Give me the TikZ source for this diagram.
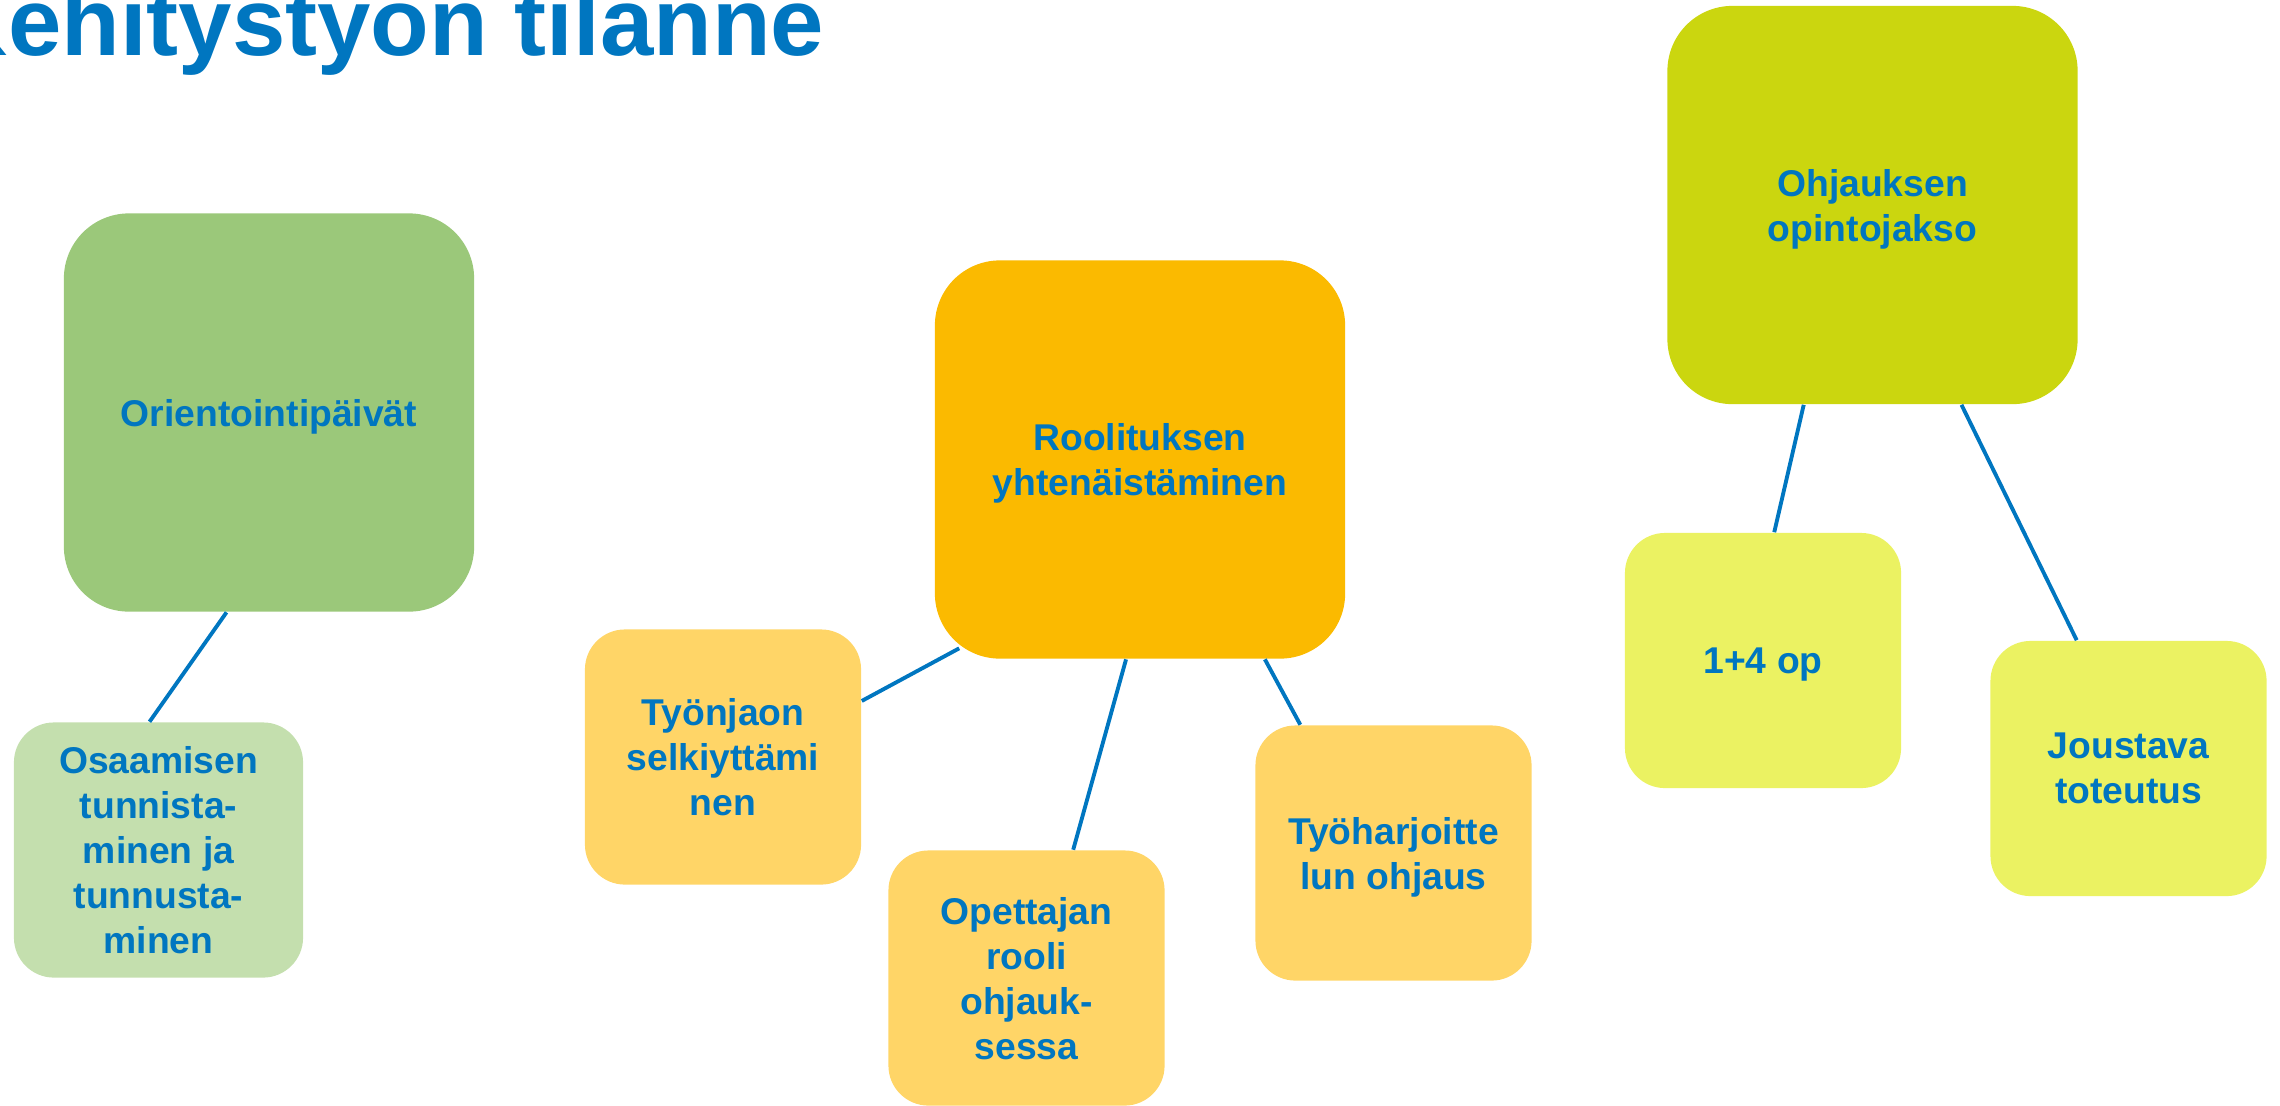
\documentclass[tikz,border=0pt]{standalone}
\usepackage{fontspec}
\setmainfont{Liberation Sans}
\usepackage{tikz}
\definecolor{titleblue}{RGB}{0,118,192}
\definecolor{leafgreen}{RGB}{155,200,122}
\definecolor{palegreen}{RGB}{196,223,174}
\definecolor{amber}{RGB}{251,186,0}
\definecolor{paleamber}{RGB}{255,213,103}
\definecolor{ohjlime}{RGB}{203,214,15}
\definecolor{palelime}{RGB}{235,242,98}

\begin{document}
\begin{tikzpicture}[x=0.01cm,y=-0.01cm,
  box/.style={align=center,text=titleblue,inner sep=0pt,text depth=0pt,
    font=\bfseries\fontsize{10.6pt}{12.8pt}\selectfont},
  bigbox/.style={box,rounded corners=0.65cm,minimum width=4.1cm,minimum height=3.98cm},
  smallbox/.style={box,rounded corners=0.4cm,minimum width=2.76cm,minimum height=2.55cm},
  link/.style={titleblue,line width=1.1pt}]
\useasboundingbox (0,0) rectangle (2280,1105);
\clip (0,0) rectangle (2280,1105);
\node[anchor=base west,inner sep=0,text=titleblue,font=\bfseries\fontsize{27.3pt}{32pt}\selectfont] (title) at (-62,55) {Kehitystyön tilanne};
% perehdytys
\node[bigbox,fill=leafgreen] (ori) at (269,412.5) {Orientointipäivät};
\node[smallbox,fill=palegreen,minimum width=2.89cm] (osa) at (158.5,850) {Osaamisen\\tunnista-\\minen ja\\tunnusta-\\minen};
% roolitus
\node[bigbox,fill=amber] (rool) at (1140,459.5) {Roolituksen\\yhtenäistäminen};
\node[smallbox,fill=paleamber] (tyonj) at (723,757) {Työnjaon\\selkiyttämi\\nen};
\node[smallbox,fill=paleamber] (opet) at (1026.5,978) {Opettajan\\rooli\\ohjauk-\\sessa};
\node[smallbox,fill=paleamber] (harj) at (1393.5,853) {Työharjoitte\\lun ohjaus};
% opintojakso
\node[bigbox,fill=ohjlime] (ohj) at (1872.5,205) {Ohjauksen\\opintojakso};
\node[smallbox,fill=palelime] (op) at (1763,660.5) {1+4 op};
\node[smallbox,fill=palelime] (jous) at (2128.5,768.5) {Joustava\\toteutus};
\draw[link] (ori.-102.65) -- (osa.94.3);
\draw[link] ([xshift=0.25cm,yshift=0.11cm]rool.south west) -- (tyonj.22.2);
\draw[link] (rool.-94.3) -- (opet.70.95);
\draw[link] (rool.-58.85) -- (harj.126.4);
\draw[link] (ohj.-109.8) -- (op.85.5);
\draw[link] (ohj.-66.5) -- (jous.112.2);
\end{tikzpicture}
\end{document}
